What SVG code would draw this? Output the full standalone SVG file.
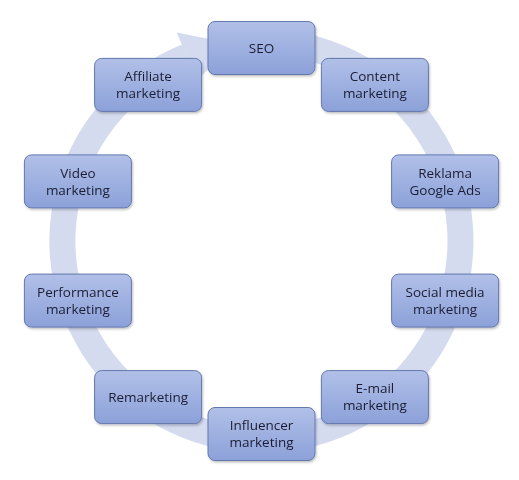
<svg xmlns="http://www.w3.org/2000/svg" width="519" height="480" viewBox="0 0 519 480">
<style>
.box{fill:url(#g);stroke:#6478ad;stroke-width:1}
.t{font-family:"Open Sans","Noto Sans",sans-serif;font-size:13.5px;fill:#1b1d33;text-anchor:middle}
</style>
<defs>
<linearGradient id="g" x1="0" y1="0" x2="0" y2="1">
<stop offset="0" stop-color="#b1c0e8"/>
<stop offset="1" stop-color="#8ca1d9"/>
</linearGradient>
<filter id="sh" x="-10%" y="-10%" width="130%" height="130%">
<feDropShadow dx="1" dy="1.5" stdDeviation="1.2" flood-color="#000" flood-opacity="0.25"/>
</filter>
</defs>
<rect width="519" height="480" fill="#fff"/>
<g id="connectors">
<path d="M261.5 42 A199 199 0 1 1 186.9 56.5" fill="none" stroke="#d4dbef" stroke-width="26"/>
<polygon points="176.7,32.4 234,44 196.7,80.6" fill="#d4dbef"/>
</g>
<g id="n0" filter="url(#sh)"><rect class="box" x="208" y="21.5" width="107" height="53" rx="7"/><text class="t" x="261.5" y="53">SEO</text></g>
<g id="n1" filter="url(#sh)"><rect class="box" x="321.4" y="58.4" width="107" height="53" rx="7"/><text class="t" x="374.9" y="81">Content</text><text class="t" x="374.9" y="98">marketing</text></g>
<g id="n2" filter="url(#sh)"><rect class="box" x="391.6" y="154.9" width="107" height="53" rx="7"/><text class="t" x="445.1" y="177.5">Reklama</text><text class="t" x="445.1" y="194.5">Google Ads</text></g>
<g id="n3" filter="url(#sh)"><rect class="box" x="391.6" y="274.1" width="107" height="53" rx="7"/><text class="t" x="445.1" y="296.7">Social media</text><text class="t" x="445.1" y="313.7">marketing</text></g>
<g id="n4" filter="url(#sh)"><rect class="box" x="321.4" y="370.6" width="107" height="53" rx="7"/><text class="t" x="374.9" y="393.2">E-mail</text><text class="t" x="374.9" y="410.2">marketing</text></g>
<g id="n5" filter="url(#sh)"><rect class="box" x="208" y="407.5" width="107" height="53" rx="7"/><text class="t" x="261.5" y="430.1">Influencer</text><text class="t" x="261.5" y="447.1">marketing</text></g>
<g id="n6" filter="url(#sh)"><rect class="box" x="94.6" y="370.6" width="107" height="53" rx="7"/><text class="t" x="148.1" y="401.7">Remarketing</text></g>
<g id="n7" filter="url(#sh)"><rect class="box" x="24.4" y="274.1" width="107" height="53" rx="7"/><text class="t" x="77.9" y="296.7">Performance</text><text class="t" x="77.9" y="313.7">marketing</text></g>
<g id="n8" filter="url(#sh)"><rect class="box" x="24.4" y="154.9" width="107" height="53" rx="7"/><text class="t" x="77.9" y="177.5">Video</text><text class="t" x="77.9" y="194.5">marketing</text></g>
<g id="n9" filter="url(#sh)"><rect class="box" x="94.6" y="58.4" width="107" height="53" rx="7"/><text class="t" x="148.1" y="81">Affiliate</text><text class="t" x="148.1" y="98">marketing</text></g>
</svg>
